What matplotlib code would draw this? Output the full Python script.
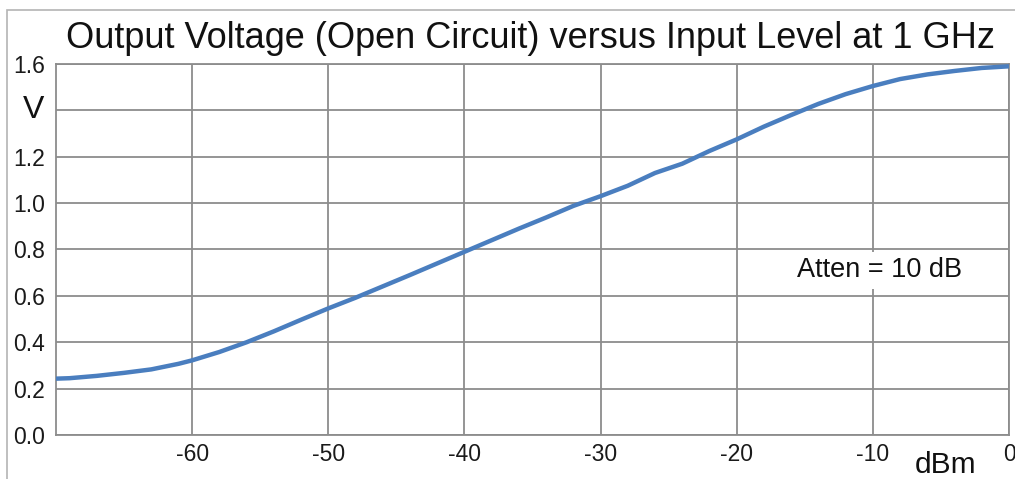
import matplotlib
matplotlib.use("Agg")
import matplotlib.pyplot as plt
from matplotlib.patches import Rectangle

plt.rcParams['font.family'] = ['Liberation Sans', 'DejaVu Sans']

# Data
input_dbm = [-70, -69, -67, -65, -63, -61, -60, -58, -56, -54, -52, -50, -48, -46, -44,
             -42, -40, -38, -36, -34, -32, -30, -28, -26, -24, -22, -20, -18, -16,
             -14, -12, -10, -8, -6, -4, -2, 0]
output_v = [0.243, 0.245, 0.255, 0.268, 0.283, 0.307, 0.322, 0.358, 0.400, 0.447, 0.497,
            0.546, 0.592, 0.641, 0.690, 0.740, 0.790, 0.840, 0.890, 0.938, 0.988, 1.030,
            1.075, 1.130, 1.170, 1.225, 1.275, 1.330, 1.380, 1.428, 1.470, 1.505, 1.535,
            1.555, 1.570, 1.583, 1.590]
x_ticks = [-60, -50, -40, -30, -20, -10, 0]
y_ticks = [0.0, 0.2, 0.4, 0.6, 0.8, 1.0, 1.2, 1.4, 1.6]
y_tick_labels = ['0.0', '0.2', '0.4', '0.6', '0.8', '1.0', '1.2', '', '1.6']

W, H = 1015, 479
fig = plt.figure(figsize=(W / 100, H / 100), dpi=100)
fig.patch.set_facecolor('white')

# outer frame (cropped on right and bottom)
fig.add_artist(Rectangle((7 / W, -0.1), 1.2, 1 - 10 / H + 0.1, transform=fig.transFigure,
                         fill=False, edgecolor='#b4b4b4', linewidth=1.2))

ax = fig.add_axes([56 / W, 44 / H, 953 / W, 371 / H])
ax.plot(input_dbm, output_v, color='#4a7ebf', linewidth=3.2, solid_capstyle='butt', zorder=3)
ax.set_xlim(-70, 0)
ax.set_ylim(0, 1.6)
ax.set_xticks(x_ticks)
ax.set_xticklabels([str(t) for t in x_ticks])
ax.set_yticks(y_ticks)
ax.set_yticklabels(y_tick_labels)
ax.tick_params(length=0, labelsize=16.5, colors='#1a1a1a')
ax.tick_params(axis='x', pad=6)
ax.tick_params(axis='y', pad=8)
ax.grid(True, color='#8c8c8c', linewidth=1.3)
ax.set_axisbelow(True)
for s in ax.spines.values():
    s.set_color('#8c8c8c')
    s.set_linewidth(1.3)

fig.text(530 / W, 1 - 48 / H, 'Output Voltage (Open Circuit) versus Input Level at 1 GHz',
         ha='center', va='baseline', fontsize=26, color='#111111')
fig.text(34 / W, 1 - 110 / H, 'V', ha='center', va='center', fontsize=23, color='#111111')
fig.text(946 / W, 1 - 473 / H, 'dBm', ha='center', va='baseline', fontsize=21.5, color='#111111')

ax.text(-9.5, 0.71, 'Atten = 10 dB', ha='center', va='center', fontsize=19.5, color='#111111',
        bbox=dict(facecolor='white', edgecolor='none', pad=4), zorder=4)

fig.savefig('out.png', dpi=100, facecolor='white')
